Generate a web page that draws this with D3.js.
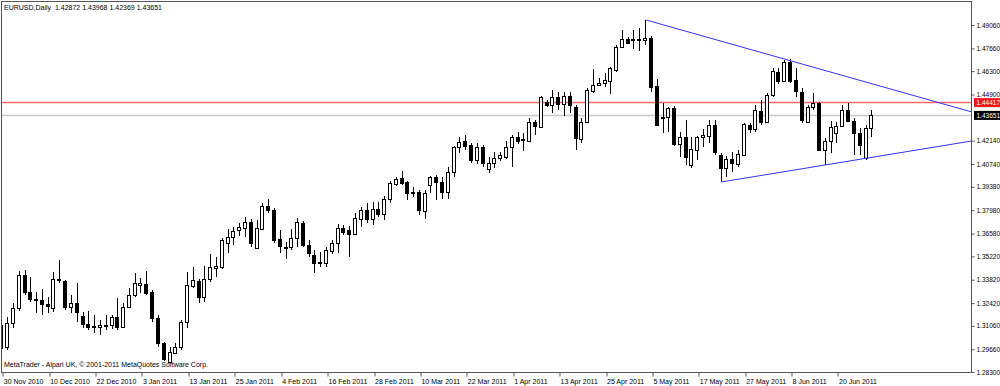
<!DOCTYPE html>
<html>
<head>
<meta charset="utf-8">
<script src="https://cdnjs.cloudflare.com/ajax/libs/d3/7.8.5/d3.min.js"></script>
<style>
  body { margin: 0; background: #fff; }
  svg text { font-family: "Liberation Sans", Arial, sans-serif; font-size: 7px; fill: #000; }
  svg .price-axis text, svg .tag { font-size: 6.5px; }
</style>
</head>
<body>
<svg id="chart" width="1000" height="386"></svg>
<script>
// EURUSD daily bars, 30 Nov 2010 .. 28 Jun 2011
var opens = [
  1.3112,1.2980,1.3124,1.3214,1.3411,1.3309,1.3268,1.3262,1.3238,1.3214,
  1.3387,1.3375,1.3220,1.3244,1.3166,1.3118,1.3100,1.3100,1.3112,1.3112,
  1.3160,1.3100,1.3220,1.3291,1.3351,1.3357,1.3309,1.3154,1.3004,1.2891,
  1.2945,1.2980,1.3130,1.3345,1.3375,1.3280,1.3387,1.3453,1.3459,1.3602,
  1.3638,1.3680,1.3692,1.3728,1.3572,1.3686,1.3824,1.3800,1.3626,1.3578,
  1.3578,1.3632,1.3722,1.3590,1.3531,1.3489,1.3483,1.3554,1.3602,1.3692,
  1.3680,1.3656,1.3746,1.3800,1.3746,1.3806,1.3776,1.3866,1.3955,1.3991,
  1.3967,1.3907,1.3907,1.3794,1.3949,1.3997,1.3967,1.3907,1.4027,1.4177,
  1.4213,1.4189,1.4099,1.4177,1.4045,1.4081,1.4111,1.4117,1.4177,1.4237,
  1.4225,1.4213,1.4326,1.4296,1.4445,1.4428,1.4475,1.4434,1.4481,1.4416,
  1.4224,1.4326,1.4511,1.4547,1.4559,1.4571,1.4637,1.4774,1.4822,1.4816,
  1.4822,1.4816,1.4828,1.4541,1.4356,1.4356,1.4410,1.4195,1.4236,1.4069,
  1.4159,1.4236,1.4242,1.4308,1.4129,1.4051,1.4105,1.4075,1.4129,1.4308,
  1.4284,1.4392,1.4326,1.4487,1.4625,1.4571,1.4685,1.4577,1.4505,1.4326,
  1.4416,1.4440,1.4159,1.4212,1.4260,1.4302,1.4398,1.4332,1.4260,1.4111,
  1.42872
];
var highs = [
  1.3154,1.3160,1.3244,1.3435,1.3441,1.3399,1.3309,1.3327,1.3280,1.3429,
  1.3501,1.3381,1.3291,1.3363,1.3190,1.3196,1.3172,1.3142,1.3172,1.3172,
  1.3274,1.3244,1.3333,1.3423,1.3393,1.3435,1.3321,1.3172,1.3010,1.2980,
  1.3004,1.3142,1.3429,1.3459,1.3387,1.3465,1.3537,1.3519,1.3632,1.3686,
  1.3698,1.3722,1.3758,1.3746,1.3740,1.3842,1.3866,1.3812,1.3680,1.3608,
  1.3686,1.3752,1.3734,1.3620,1.3560,1.3549,1.3578,1.3620,1.3716,1.3710,
  1.3704,1.3782,1.3818,1.3842,1.3848,1.3848,1.3884,1.3973,1.3997,1.4033,
  1.3973,1.3937,1.3919,1.3919,1.4003,1.4009,1.3997,1.4057,1.4183,1.4237,
  1.4248,1.4201,1.4201,1.4189,1.4117,1.4147,1.4147,1.4213,1.4248,1.4266,
  1.4260,1.4350,1.4338,1.4481,1.4457,1.4517,1.4505,1.4505,1.4505,1.4428,
  1.4350,1.4529,1.4643,1.4589,1.4619,1.4655,1.4786,1.4876,1.4834,1.4876,
  1.4888,1.4936,1.4840,1.4583,1.4440,1.4416,1.4422,1.4266,1.4337,1.4236,
  1.4242,1.4284,1.4338,1.4338,1.4141,1.4123,1.4147,1.4159,1.4320,1.4320,
  1.4428,1.4457,1.4499,1.4649,1.4649,1.4697,1.4703,1.4649,1.4529,1.4428,
  1.4499,1.4446,1.4230,1.4332,1.4326,1.4428,1.4440,1.4350,1.4290,1.4308,
  1.43968
];
var lows = [
  1.2963,1.2963,1.3094,1.3196,1.3291,1.3250,1.3184,1.3172,1.3184,1.3190,
  1.3363,1.3202,1.3184,1.3130,1.3094,1.3082,1.3064,1.3052,1.3082,1.3088,
  1.3082,1.3094,1.3214,1.3280,1.3303,1.3291,1.3130,1.2981,1.2893,1.2885,
  1.2938,1.2963,1.3094,1.3333,1.3244,1.3250,1.3369,1.3399,1.3447,1.3543,
  1.3590,1.3644,1.3638,1.3578,1.3566,1.3680,1.3782,1.3602,1.3543,1.3507,
  1.3560,1.3578,1.3578,1.3519,1.3423,1.3459,1.3459,1.3537,1.3543,1.3650,
  1.3519,1.3650,1.3698,1.3722,1.3710,1.3758,1.3740,1.3842,1.3943,1.3949,
  1.3860,1.3877,1.3770,1.3746,1.3901,1.3860,1.3866,1.3866,1.3997,1.4141,
  1.4159,1.4081,1.4075,1.4057,1.4021,1.4051,1.4093,1.4105,1.4057,1.4195,
  1.4153,1.4207,1.4248,1.4290,1.4416,1.4380,1.4398,1.4362,1.4380,1.4159,
  1.4201,1.4320,1.4499,1.4541,1.4535,1.4493,1.4625,1.4768,1.4792,1.4762,
  1.4750,1.4786,1.4505,1.4302,1.4260,1.4266,1.4183,1.4117,1.4069,1.4051,
  1.4099,1.4177,1.4201,1.4129,1.3967,1.3997,1.4027,1.4057,1.4123,1.4260,
  1.4266,1.4308,1.4320,1.4475,1.4553,1.4565,1.4559,1.4475,1.4320,1.4320,
  1.4398,1.4153,1.4069,1.4141,1.4201,1.4296,1.4326,1.4129,1.4129,1.4099,
  1.42369
];
var closes = [
  1.2975,1.3124,1.3214,1.3411,1.3309,1.3268,1.3265,1.3238,1.3226,1.3387,
  1.3381,1.3220,1.3244,1.3190,1.3118,1.3100,1.3103,1.3112,1.3109,1.3160,
  1.3100,1.3220,1.3291,1.3363,1.3363,1.3303,1.3154,1.3004,1.2909,1.2950,
  1.2980,1.3130,1.3351,1.3381,1.3280,1.3387,1.3459,1.3465,1.3620,1.3638,
  1.3674,1.3698,1.3728,1.3602,1.3692,1.3824,1.3800,1.3620,1.3584,1.3572,
  1.3632,1.3728,1.3590,1.3543,1.3483,1.3483,1.3560,1.3602,1.3692,1.3668,
  1.3656,1.3752,1.3800,1.3746,1.3806,1.3776,1.3866,1.3961,1.3985,1.3961,
  1.3901,1.3901,1.3800,1.3901,1.3997,1.3967,1.3907,1.4027,1.4177,1.4207,
  1.4183,1.4099,1.4177,1.4081,1.4081,1.4111,1.4129,1.4177,1.4237,1.4213,
  1.4219,1.4326,1.4302,1.4475,1.4428,1.4475,1.4434,1.4481,1.4428,1.4230,
  1.4326,1.4517,1.4547,1.4559,1.4577,1.4649,1.4774,1.4822,1.4798,1.4822,
  1.4816,1.4828,1.4535,1.4308,1.4353,1.4410,1.4195,1.4236,1.4117,1.4165,
  1.4236,1.4248,1.4308,1.4147,1.4051,1.4105,1.4081,1.4135,1.4314,1.4284,
  1.4398,1.4326,1.4487,1.4631,1.4571,1.4685,1.4571,1.4511,1.4338,1.4416,
  1.4440,1.4159,1.4212,1.4296,1.4302,1.4398,1.4332,1.4260,1.4188,1.4290,
  1.43651
];

// time axis labels (one every 8 bars)
var tickBars = [0,8,16,24,32,40,48,56,64,72,80,88,96,104,112,120,128,136,144];
var tickDates = ["30 Nov 2010","10 Dec 2010","22 Dec 2010","3 Jan 2011","13 Jan 2011",
  "25 Jan 2011","4 Feb 2011","16 Feb 2011","28 Feb 2011","10 Mar 2011","22 Mar 2011",
  "1 Apr 2011","13 Apr 2011","25 Apr 2011","5 May 2011","17 May 2011","27 May 2011",
  "8 Jun 2011","20 Jun 2011"];

// price scale labels
var priceTicks = [1.49060,1.47660,1.46300,1.44900,1.42140,1.40740,1.39380,1.37980,
  1.36580,1.35220,1.33820,1.32420,1.31060,1.29660,1.28300];

// horizontal line + current bid
var levelPrice = 1.44417;
var bidPrice = 1.43651;

// trend lines: [bar, price] pairs, drawn as rays to the right
var trendStart = [[111, 1.4936], [124, 1.3967]];
var trendEnd   = [[136, 1.4691], [149, 1.4109]];

var svg = d3.select("#chart");
var plotL = 2, plotT = 2, plotR = 971, plotB = 372;

var x = d3.scaleLinear().domain([0, 150]).range([2.3, 872.3]);
var y = d3.scaleLinear().domain([1.283, 1.4906]).range([372, 25]);

var bars = opens.map(function(o, i){
  return {i: i, o: o, h: highs[i], l: lows[i], c: closes[i]};
});

svg.append("clipPath").attr("id", "plot")
  .append("rect").attr("x", plotL).attr("y", plotT)
  .attr("width", plotR - plotL).attr("height", plotB - plotT);

var plot = svg.append("g").attr("clip-path", "url(#plot)");

// level line and bid line
plot.append("line")
  .attr("x1", plotL).attr("x2", plotR)
  .attr("y1", y(bidPrice)).attr("y2", y(bidPrice))
  .attr("stroke", "#c8c8c8").attr("stroke-width", 1.5);
plot.append("line")
  .attr("x1", plotL).attr("x2", plotR)
  .attr("y1", y(levelPrice)).attr("y2", y(levelPrice))
  .attr("stroke", "#f46a6a").attr("stroke-width", 1.5);

// candles
var candle = plot.append("g").attr("shape-rendering", "crispEdges")
  .selectAll("g").data(bars).enter().append("g");

candle.append("line")
  .attr("x1", function(d){ return Math.round(x(d.i)) - 0.5; })
  .attr("x2", function(d){ return Math.round(x(d.i)) - 0.5; })
  .attr("y1", function(d){ return y(d.h); })
  .attr("y2", function(d){ return y(d.l); })
  .attr("stroke", "#000");

candle.append("rect")
  .attr("x", function(d){ return Math.round(x(d.i)) - 2.5; })
  .attr("width", 3)
  .attr("y", function(d){ return Math.round(y(Math.max(d.o, d.c))) + 0.5; })
  .attr("height", function(d){ return Math.round(Math.abs(y(d.o) - y(d.c))); })
  .attr("fill", function(d){ return d.c >= d.o ? "#fff" : "#000"; })
  .attr("stroke", "#000");

// trend lines
trendStart.forEach(function(p, k){
  var q = trendEnd[k];
  var slope = (q[1] - p[1]) / (q[0] - p[0]);
  var farBar = x.invert(plotR + 5);
  plot.append("line")
    .attr("x1", x(p[0])).attr("y1", y(p[1]))
    .attr("x2", x(farBar)).attr("y2", y(p[1] + slope * (farBar - p[0])))
    .attr("stroke", "#3434f0").attr("stroke-width", 1);
});

// frame
svg.append("rect")
  .attr("x", plotL - 0.5).attr("y", plotT - 0.5)
  .attr("width", plotR - plotL + 1).attr("height", plotB - plotT + 1)
  .attr("fill", "none").attr("stroke", "#555");

// price axis
var yAxis = svg.append("g").attr("class", "price-axis")
  .attr("transform", "translate(" + (plotR + 0.5) + ",0)")
  .call(d3.axisRight(y).tickValues(priceTicks).tickSize(3).tickPadding(2)
    .tickFormat(d3.format(".5f")));
yAxis.select(".domain").remove();
yAxis.selectAll("line").attr("stroke", "#555");
yAxis.attr("font-family", null).attr("font-size", null);

// time axis
var xAxis = svg.append("g")
  .attr("transform", "translate(0," + (plotB + 0.5) + ")")
  .call(d3.axisBottom(x).tickValues(tickBars).tickSize(4).tickPadding(2)
    .tickFormat(function(d, i){ return tickDates[i]; }));
xAxis.select(".domain").remove();
xAxis.attr("font-family", null).attr("font-size", null);
xAxis.selectAll("line").attr("stroke", "#555")
  .attr("x1", function(d){ return Math.round(x(d)) - x(d) + 0.5; })
  .attr("x2", function(d){ return Math.round(x(d)) - x(d) + 0.5; });
xAxis.selectAll("text").attr("text-anchor", "start").attr("dx", 1).attr("dy", "0.75em");

// price tags on the scale
[[levelPrice, "#f01818"], [bidPrice, "#000"]].forEach(function(t){
  svg.append("rect")
    .attr("x", plotR + 3).attr("y", y(t[0]) - 4.5)
    .attr("width", 1000 - plotR - 3).attr("height", 9)
    .attr("fill", t[1]);
  svg.append("text").attr("class", "tag")
    .attr("x", plotR + 5.5).attr("y", y(t[0]))
    .attr("dy", "0.35em")
    .style("fill", "#fff")
    .text(d3.format(".5f")(t[0]));
});

// texts
svg.append("text").attr("x", 4).attr("y", 10).attr("xml:space", "preserve")
  .text("EURUSD,Daily  1.42872 1.43968 1.42369 1.43651");
svg.append("text").attr("x", 4).attr("y", 367)
  .text("MetaTrader - Alpari UK, \u00a9 2001-2011 MetaQuotes Software Corp.");
</script>
</body>
</html>
